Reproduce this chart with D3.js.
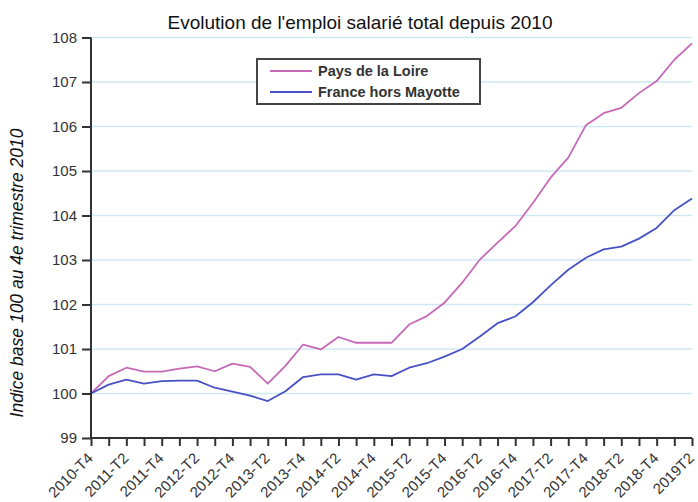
<!DOCTYPE html>
<html>
<head>
<meta charset="utf-8">
<script src="https://cdn.jsdelivr.net/npm/d3@7"></script>
<style>
  html, body { margin: 0; padding: 0; background: #fff; }
  svg { display: block; font-family: "Liberation Sans", Arial, sans-serif; }
</style>
</head>
<body>
<svg id="chart" width="698" height="502"></svg>
<script>
const quarters = [
  "2010-T4","2011-T1","2011-T2","2011-T3","2011-T4",
  "2012-T1","2012-T2","2012-T3","2012-T4",
  "2013-T1","2013-T2","2013-T3","2013-T4",
  "2014-T1","2014-T2","2014-T3","2014-T4",
  "2015-T1","2015-T2","2015-T3","2015-T4",
  "2016-T1","2016-T2","2016-T3","2016-T4",
  "2017-T1","2017-T2","2017-T3","2017-T4",
  "2018-T1","2018-T2","2018-T3","2018-T4",
  "2019-T1","2019-T2"
];
const tickLabels = [
  "2010-T4","2011-T2","2011-T4","2012-T2","2012-T4","2013-T2","2013-T4",
  "2014-T2","2014-T4","2015-T2","2015-T4","2016-T2","2016-T4","2017-T2",
  "2017-T4","2018-T2","2018-T4","2019T2"
];
const paysDeLaLoire = [
  100.00,100.39,100.58,100.49,100.49,100.56,100.61,100.50,100.67,100.60,
  100.22,100.62,101.10,100.99,101.27,101.14,101.14,101.14,101.55,101.74,
  102.04,102.49,103.01,103.39,103.76,104.28,104.85,105.30,106.03,106.30,
  106.42,106.75,107.02,107.50,107.87
];
const franceHorsMayotte = [
  100.00,100.20,100.31,100.22,100.28,100.29,100.29,100.13,100.04,99.95,
  99.83,100.05,100.37,100.43,100.43,100.31,100.43,100.39,100.58,100.68,
  100.83,101.00,101.28,101.58,101.73,102.05,102.43,102.78,103.05,103.24,
  103.30,103.48,103.72,104.12,104.38
];
const yTicks = [99,100,101,102,103,104,105,106,107,108];
const seriesNames = ["Pays de la Loire","France hors Mayotte"];
const seriesColors = ["#c66ab8","#4852c4"];

const svg = d3.select("#chart");
const mLeft = 91, mRight = 692, mTop = 37.5, mBottom = 438;

const x = d3.scalePoint().domain(quarters).range([mLeft, mRight]);
const y = d3.scaleLinear().domain([99,108]).range([mBottom, mTop]);

// gridlines
svg.append("g").selectAll("line").data(yTicks.filter(d => d > 99)).join("line")
  .attr("x1", mLeft).attr("x2", mRight)
  .attr("y1", d => y(d)).attr("y2", d => y(d))
  .attr("stroke", "#cfe9f2").attr("stroke-width", 1.5);

// lines
const line = d3.line().x((d,i) => x(quarters[i])).y(d => y(d));
[paysDeLaLoire, franceHorsMayotte].forEach((s, k) => {
  svg.append("path").datum(s).attr("d", line)
    .attr("fill", "none").attr("stroke", seriesColors[k]).attr("stroke-width", 1.8)
    .attr("stroke-linejoin", "round");
});

// y axis
const yAxis = svg.append("g").attr("transform", `translate(${mLeft},0)`)
  .call(d3.axisLeft(y).tickValues(yTicks).tickSize(9).tickPadding(5).tickFormat(d3.format("d")));
yAxis.select(".domain").attr("stroke", "#333").attr("stroke-width", 2).attr("d", `M0,${mTop}V${mBottom}`);
yAxis.selectAll(".tick line").attr("stroke", "#333").attr("stroke-width", 2);
yAxis.selectAll(".tick text").attr("font-size", 15).attr("fill", "#333")
  .attr("font-family", "Liberation Sans, Arial, sans-serif");

// x axis
const xAxis = svg.append("g").attr("transform", `translate(0,${mBottom})`)
  .call(d3.axisBottom(x).tickValues(quarters).tickSize(8).tickFormat(""));
xAxis.select(".domain").attr("stroke", "#333").attr("stroke-width", 2).attr("d", `M${mLeft},0H${mRight}`);
xAxis.selectAll(".tick line").attr("stroke", "#333").attr("stroke-width", 2);

const labelPos = quarters.filter((q,i) => i % 2 === 0);
svg.append("g").selectAll("text").data(tickLabels).join("text")
  .attr("transform", (d,i) => `translate(${x(labelPos[i]) + 3},${mBottom + 21}) rotate(-45)`)
  .attr("text-anchor", "end")
  .attr("font-size", 15).attr("fill", "#333")
  .text(d => d);

// title
svg.append("text").attr("x", 360).attr("y", 29).attr("text-anchor", "middle")
  .attr("font-size", 19).attr("fill", "#111")
  .text("Evolution de l'emploi salarié total depuis 2010");

// y label
svg.append("text").attr("transform", "translate(23,273) rotate(-90)")
  .attr("text-anchor", "middle").attr("font-size", 17.5).attr("font-style", "italic")
  .attr("fill", "#111")
  .text("Indice base 100 au 4e trimestre 2010");

// legend
const lg = svg.append("g");
lg.append("rect").attr("x", 257).attr("y", 59).attr("width", 223).attr("height", 45)
  .attr("fill", "#fff").attr("stroke", "#444").attr("stroke-width", 2);
seriesNames.forEach((n, k) => {
  const yy = 71 + k * 21;
  lg.append("line").attr("x1", 270).attr("x2", 312).attr("y1", yy).attr("y2", yy)
    .attr("stroke", seriesColors[k]).attr("stroke-width", 1.8);
  lg.append("text").attr("x", 318).attr("y", yy + 5).attr("font-size", 14.5)
    .attr("font-weight", "bold").attr("fill", "#333").text(n);
});
</script>
</body>
</html>
